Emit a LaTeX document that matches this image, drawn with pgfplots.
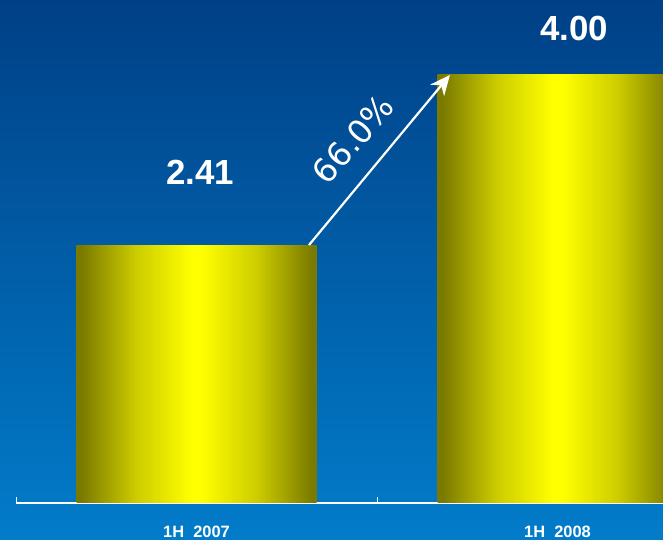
\documentclass[border=0pt]{standalone}
\usepackage{pgfplots}
\pgfplotsset{compat=1.18}
\usepackage{fontspec}
\setmainfont{Liberation Sans}
\newfontfamily\pctfont{DejaVu Sans}
\usetikzlibrary{arrows.meta}
\definecolor{bgtop}{RGB}{0,64,134}
\definecolor{bgbot}{RGB}{2,124,202}
\definecolor{olivebar}{RGB}{122,122,0}
\definecolor{midbar}{RGB}{205,205,0}
\definecolor{yelbar}{RGB}{255,255,0}
\pgfdeclarehorizontalshading{barshade}{100bp}{color(0bp)=(olivebar); color(26bp)=(olivebar); color(37.5bp)=(midbar); color(49bp)=(yelbar); color(51bp)=(yelbar); color(62.5bp)=(midbar); color(74bp)=(olivebar); color(100bp)=(olivebar)}
\begin{document}
\begin{tikzpicture}
\shade[top color=bgtop, bottom color=bgbot] (-16bp,-37bp) rectangle (647bp,503bp);
\begin{axis}[
  at={(0,0)}, anchor=south west,
  scale only axis,
  width=647bp, height=503bp,
  xmin=-0.5, xmax=1.2922,
  ymin=0, ymax=4.7009,
  axis y line=none,
  axis x line*=bottom,
  x axis line style={white, line width=1.2pt, -},
  xtick={-0.5,0.5},
  xticklabels={},
  xtick style={white, line width=1pt},
  major tick length=6bp,
  tick align=inside,
  extra x ticks={0,1},
  extra x tick labels={1H\ \ 2007,1H\ \ 2008},
  extra x tick style={major tick length=0pt},
  xticklabel style={text=white, font=\fontsize{16.5}{17}\selectfont\bfseries, anchor=base, yshift=-34bp},
  ytick=\empty,
  clip=true,
]
\addplot[ybar, bar width=240bp, draw=none, shading=barshade]
  coordinates {(0,2.41)};
\addplot[ybar, bar width=240bp, draw=none, shading=barshade]
  coordinates {(1,4.00)};
\draw[white, line width=2.2pt, -{Stealth[length=20bp,width=18bp]}] (axis cs:0.3116,2.411) -- (axis cs:0.702,4.0);
\node[text=white, font=\fontsize{35}{36}\selectfont\bfseries] at (axis cs:0.0097,3.093) {2.41};
\node[text=white, font=\fontsize{35}{36}\selectfont\bfseries] at (axis cs:1.0457,4.439) {4.00};
\node[text=white, font=\pctfont\fontsize{33}{34}\selectfont, rotate=49] at (axis cs:0.4338,3.40) {66.0\%};
\end{axis}
\pgfresetboundingbox
\path[use as bounding box] (-16bp,-37bp) rectangle (647bp,503bp);
\end{tikzpicture}
\end{document}
